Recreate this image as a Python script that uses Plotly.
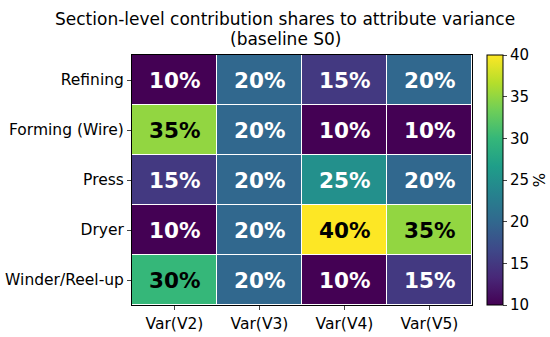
import plotly.graph_objects as go

rows = ["Refining", "Forming (Wire)", "Press", "Dryer", "Winder/Reel-up"]
cols = ["Var(V2)", "Var(V3)", "Var(V4)", "Var(V5)"]
values = [
    [10, 20, 15, 20],
    [35, 20, 10, 10],
    [15, 20, 25, 20],
    [10, 20, 40, 35],
    [30, 20, 10, 15],
]
zmin, zmax = 10, 40
cb_ticks = [10, 15, 20, 25, 30, 35, 40]

W, H = 550, 337
L, T = 132, 55
R = W - 472
B = H - 305
pw = W - L - R
ph = H - T - B

fig = go.Figure()
fig.add_trace(go.Heatmap(
    z=values, x=cols, y=rows, colorscale="Viridis", zmin=zmin, zmax=zmax,
    xgap=1, ygap=1, showscale=True,
    colorbar=dict(
        tickvals=cb_ticks, ticks="outside", ticklen=4, tickwidth=1,
        thickness=16, len=1.0, lenmode="fraction", y=0.5, yanchor="middle",
        x=(487 - L) / pw, xanchor="left", xpad=0, ypad=0,
        outlinewidth=1, outlinecolor="black",
        title=dict(text="%", side="right", font=dict(size=15)),
        tickfont=dict(size=15, color="black"),
    ),
    hoverinfo="skip",
))

for i, r in enumerate(rows):
    for j, c in enumerate(cols):
        v = values[i][j]
        color = "black" if v >= 30 else "white"
        fig.add_annotation(x=c, y=r, text=f"<b>{v}%</b>", showarrow=False,
                           font=dict(size=21.5, color=color, family="DejaVu Sans"))

for txt, yc in [("Section-level contribution shares to attribute variance", 19),
                ("(baseline S0)", 39)]:
    fig.add_annotation(xref="paper", yref="paper", x=(285 - L) / pw,
                       y=1 + (T - yc) / ph,
                       text=txt, showarrow=False, xanchor="center", yanchor="middle",
                       font=dict(size=17, color="black"))

fig.update_layout(
    width=W, height=H,
    margin=dict(l=L, r=R, t=T, b=B, autoexpand=False),
    paper_bgcolor="white", plot_bgcolor="white",
    font=dict(family="DejaVu Sans", color="black"),
    xaxis=dict(showgrid=False, ticks="outside", ticklen=4, tickfont=dict(size=15.5),
               mirror=True, showline=True, linecolor="black", linewidth=1),
    yaxis=dict(showgrid=False, ticks="outside", ticklen=4, tickfont=dict(size=15.5),
               autorange="reversed", mirror=True, showline=True, linecolor="black", linewidth=1),
)

fig.write_html("out.html", config={"displayModeBar": False},
               post_script="document.body.style.margin='0';document.body.style.padding='0';")
